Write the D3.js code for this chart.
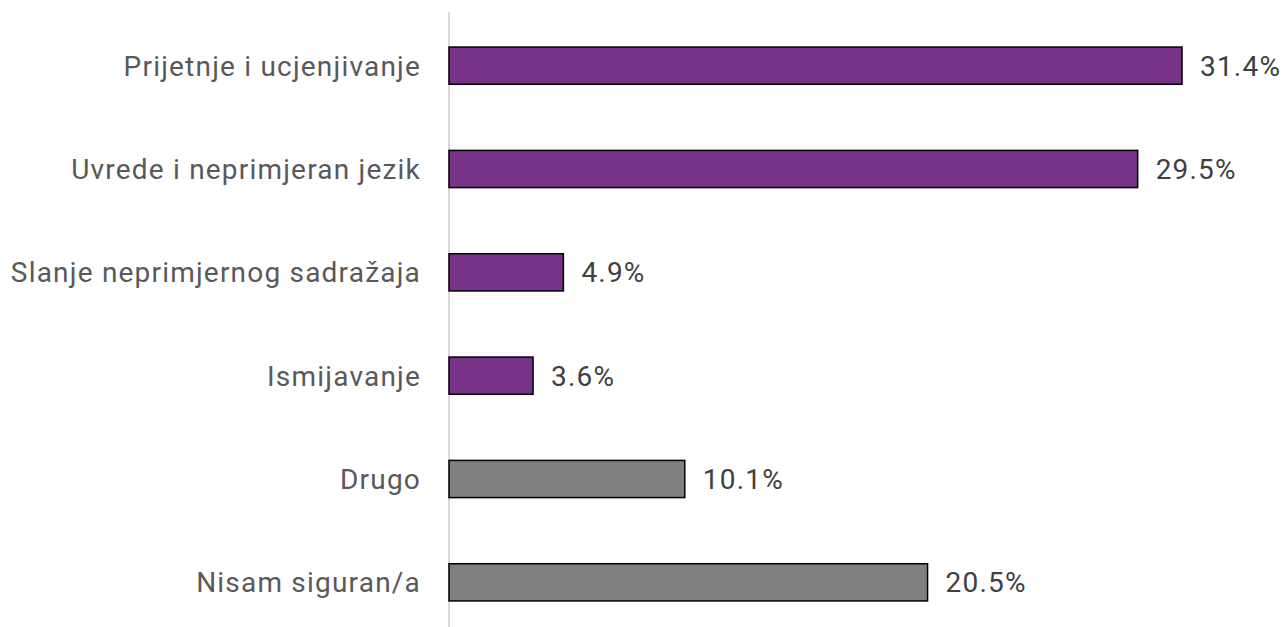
<!DOCTYPE html>
<html>
<head>
<meta charset="utf-8">
<script src="https://cdn.jsdelivr.net/npm/d3@7"></script>
<style>
  body { margin: 0; background: #fff; }
  svg { display: block; }
</style>
</head>
<body>
<svg id="chart" width="1286" height="627"></svg>
<script>
// categories top -> bottom
const categories = [
  "Prijetnje i ucjenjivanje",
  "Uvrede i neprimjeran jezik",
  "Slanje neprimjernog sadražaja",
  "Ismijavanje",
  "Drugo",
  "Nisam siguran/a"
];
const values = [31.4, 29.5, 4.9, 3.6, 10.1, 20.5];
const groups = ["main", "main", "main", "main", "other", "other"];

const colors = { main: "#763387", other: "#7f7f7f" };

const svg = d3.select("#chart");
const left = 449;

const data = categories.map((c, i) => ({ cat: c, value: values[i], group: groups[i] }));

const x = d3.scaleLinear()
    .domain([0, d3.max(values)])
    .range([left, 1182]);

const y = d3.scaleBand()
    .domain(categories)
    .range([14, 634])
    .paddingInner(0.64)
    .paddingOuter(0.32);

// axis line
svg.append("line")
    .attr("x1", left).attr("x2", left)
    .attr("y1", 12).attr("y2", 627)
    .attr("stroke", "#d9d9d9")
    .attr("stroke-width", 2);

svg.selectAll("rect.bar")
    .data(data)
    .enter()
    .append("rect")
    .attr("class", "bar")
    .attr("x", x(0))
    .attr("y", d => y(d.cat))
    .attr("width", d => x(d.value) - x(0))
    .attr("height", y.bandwidth())
    .attr("fill", d => colors[d.group])
    .attr("stroke", "#000")
    .attr("stroke-width", 1.5);

const font = "Roboto, 'Liberation Sans', sans-serif";

// category labels
svg.selectAll("text.cat")
    .data(data)
    .enter()
    .append("text")
    .attr("class", "cat")
    .attr("x", 421)
    .attr("y", d => y(d.cat) + y.bandwidth() / 2)
    .attr("dy", "0.36em")
    .attr("text-anchor", "end")
    .attr("fill", "#595959")
    .style("font-family", font)
    .style("font-size", "28px")
    .style("letter-spacing", "1.2px")
    .text(d => d.cat);

// value labels
svg.selectAll("text.val")
    .data(data)
    .enter()
    .append("text")
    .attr("class", "val")
    .attr("x", d => x(d.value) + 18)
    .attr("y", d => y(d.cat) + y.bandwidth() / 2)
    .attr("dy", "0.36em")
    .attr("fill", "#404040")
    .style("font-family", font)
    .style("font-size", "28px")
    .style("letter-spacing", "1.2px")
    .text(d => d.value.toFixed(1) + "%");
</script>
</body>
</html>
